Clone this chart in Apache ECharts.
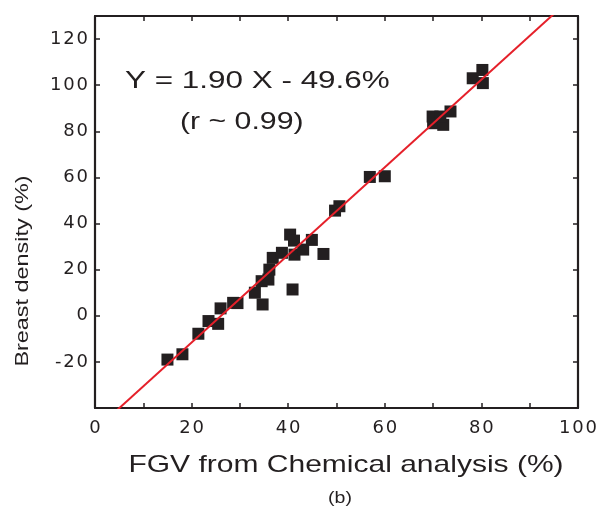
<!DOCTYPE html>
<html><head><meta charset="utf-8">
<script src="https://cdn.jsdelivr.net/npm/echarts@6/dist/echarts.min.js"></script>
<style>html,body{margin:0;padding:0;background:#fff}#c{width:607px;height:510px}</style>
</head><body><div id="c"></div>
<script>
const fgv = [15.0,18.1,21.4,23.5,25.5,26.0,28.6,29.5,33.1,34.7,34.5,35.9,36.1,36.8,38.7,40.4,41.2,41.3,43.1,44.9,47.3,40.9,49.7,50.6,56.9,60.0,69.9,70.0,72.1,73.6,71.5,78.2,80.2,80.3];
const density = [-19.0,-16.7,-7.8,-2.3,-3.5,3.2,5.6,5.5,10.0,4.9,15.0,15.7,20.0,25.1,27.3,35.2,32.6,26.5,28.7,32.9,26.8,11.4,45.6,47.5,60.2,60.5,86.4,83.5,82.8,88.6,86.4,103.0,106.6,100.9];
const fitSlope = 1.90, fitIntercept = -49.6;
const xTicks = [0,20,40,60,80,100];
const yTicks = [-20,0,20,40,60,80,100,120];
const fitX = [0, 100];

const points = fgv.map((x,i)=>[x,density[i]]);
const fitLine = fitX.map(x=>[x, fitSlope*x+fitIntercept]);
const font = 'Liberation Sans, Arial, sans-serif';
const ink = '#231f20';
const wideLabel = (list)=> v => list.includes(v) ? String(v).split('').join('\u200A') : '';
const chart = echarts.init(document.getElementById('c'));
const axLine = {show:true, onZero:false, lineStyle:{color:ink,width:2.2}};
const tick = {show:true,inside:true,length:5,lineStyle:{color:ink,width:1.5}};
const labelStyle = {fontSize:18,fontFamily:'DejaVu Sans',color:ink};
chart.setOption({
  animation:false,
  grid:{left:95,right:29,top:16,bottom:102},
  xAxis:[{type:'value',min:0,max:100,interval:10,position:'bottom',
    axisLine:axLine,axisTick:tick,splitLine:{show:false},
    axisLabel:Object.assign({margin:11,formatter:wideLabel(xTicks)},labelStyle)},
   {type:'value',min:0,max:100,interval:10,position:'top',
    axisLine:axLine,axisTick:tick,splitLine:{show:false},axisLabel:{show:false}}],
  yAxis:[{type:'value',min:-40,max:130,interval:20,position:'left',
    axisLine:axLine,axisTick:tick,splitLine:{show:false},
    axisLabel:Object.assign({margin:7,formatter:wideLabel(yTicks)},labelStyle)},
   {type:'value',min:-40,max:130,interval:20,position:'right',
    axisLine:axLine,axisTick:tick,splitLine:{show:false},axisLabel:{show:false}}],
  series:[
    {type:'scatter',data:points,symbol:'rect',symbolSize:12,itemStyle:{color:ink,opacity:1}},
    {type:'line',data:fitLine,symbol:'none',clip:true,lineStyle:{color:'#e5202a',width:2},z:3}
  ],
  graphic:[
    {type:'text',x:125,y:81.5,scaleX:1.31,style:{text:'Y = 1.90 X - 49.6%',font:'24px '+font,fill:ink,align:'left',verticalAlign:'middle'}},
    {type:'text',x:180,y:122,scaleX:1.26,style:{text:'(r ~ 0.99)',font:'24px '+font,fill:ink,align:'left',verticalAlign:'middle'}},
    {type:'text',x:23,y:271,rotation:Math.PI/2,scaleX:1.3,style:{text:'Breast density (%)',font:'18px '+font,fill:ink,align:'center',verticalAlign:'middle'}},
    {type:'text',x:346,y:465,scaleX:1.25,style:{text:'FGV from Chemical analysis (%)',font:'24px '+font,fill:ink,align:'center',verticalAlign:'middle'}},
    {type:'text',x:340,y:498,scaleX:1.15,style:{text:'(b)',font:'17px '+font,fill:ink,align:'center',verticalAlign:'middle'}}
  ]
});
</script></body></html>
